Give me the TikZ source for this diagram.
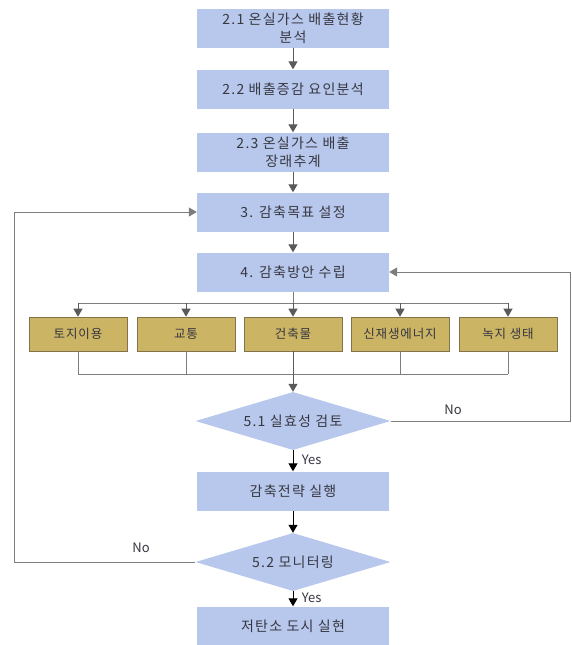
\documentclass[tikz,border=0pt]{standalone}
\usepackage{fontspec}
\setmainfont{Noto Sans CJK KR}
\usetikzlibrary{arrows.meta,shapes.geometric}
\definecolor{boxblue}{RGB}{183,200,236}
\definecolor{tanfill}{RGB}{203,180,100}
\definecolor{tanborder}{RGB}{130,115,75}
\definecolor{linegray}{RGB}{125,125,125}
\definecolor{arrgray}{RGB}{90,90,90}
\definecolor{txt}{RGB}{55,55,65}
\tikzset{
  mainbox/.style={rectangle, fill=boxblue, draw=none, minimum width=192pt, minimum height=39pt, inner sep=2pt, align=center, text=txt, font=\fontsize{14pt}{18pt}\selectfont\addfontfeatures{LetterSpace=9}},
  tanbox/.style={rectangle, fill=tanfill, draw=tanborder, line width=0.6pt, minimum width=98pt, minimum height=34pt, inner sep=1pt, text=txt, font=\fontsize{12.5pt}{14pt}\selectfont\addfontfeatures{LetterSpace=7}},
  decbox/.style={diamond, aspect=3.36, fill=boxblue, draw=none, minimum width=195pt, minimum height=58pt, inner sep=0pt, text=txt, font=\fontsize{14pt}{16pt}\selectfont\addfontfeatures{LetterSpace=9}},
  conn/.style={draw=linegray, line width=1pt},
  garrow/.style={conn, -{Triangle[length=8pt,width=9pt]}, arrgray},
  barrow/.style={draw=black, line width=1pt, -{Triangle[length=8pt,width=9pt]}},
  lbl/.style={text=txt, font=\fontsize{13pt}{15pt}\selectfont}
}
\begin{document}
\begin{tikzpicture}[x=1pt,y=-1pt]
\useasboundingbox[fill=white] (0,0) rectangle (572,645);
\node[mainbox] (b21) at (293,28) {2.1 온실가스 배출현황\\분석};
\node[mainbox] (b22) at (293,89) {2.2 배출증감 요인분석};
\node[mainbox] (b23) at (293,152) {2.3 온실가스 배출\\장래추계};
\node[mainbox] (b3) at (293,212) {3. 감축목표 설정};
\node[mainbox] (b4) at (293,272) {4. 감축방안 수립};
\node[tanbox] (t1) at (78,334) {토지이용};
\node[tanbox] (t2) at (186,334) {교통};
\node[tanbox] (t3) at (293,334) {건축물};
\node[tanbox] (t4) at (400,334) {신재생에너지};
\node[tanbox] (t5) at (508,334) {녹지 생태};
\node[decbox] (d51) at (293,421) {5.1 실효성 검토};
\node[mainbox] (b5) at (293,491) {감축전략 실행};
\node[decbox] (d52) at (293,562) {5.2 모니터링};
\node[mainbox] (b6) at (293,626) {저탄소 도시 실현};
\coordinate (br) at (293,303);
\coordinate (bb) at (293,374);
\coordinate (lx) at (14,0);
\coordinate (rx) at (570,0);
% top chain
\draw[garrow] (b21) -- (b22);
\draw[garrow] (b22) -- (b23);
\draw[garrow] (b23) -- (b3);
\draw[garrow] (b3) -- (b4);
% branches
\draw[conn] (b4.south) -- (br);
\draw[conn] (t1.north |- br) -- (t5.north |- br);
\foreach \t in {t1,t2,t3,t4,t5}{\draw[garrow] (\t.north |- br) -- (\t.north);}
\foreach \t in {t1,t2,t4,t5}{\draw[conn] (\t.south) -- (\t.south |- bb);}
\draw[conn] (t1.south |- bb) -- (t5.south |- bb);
\draw[garrow] (t3.south) -- (d51.north);
% lower chain
\draw[barrow] (d51.south) -- node[lbl, right=5pt, pos=0.45] {Yes} (b5.north);
\draw[barrow] (b5.south) -- (d52.north);
\draw[barrow] (d52.south) -- node[lbl, right=5pt, pos=0.45] {Yes} (b6.north);
% loops
\draw[conn, -{Triangle[length=8pt,width=9pt]}] (d51.east) -- (rx |- d51.east) -- (rx |- b4.east) -- (b4.east);
\node[lbl] (no1) at (453,410) {No};
\draw[conn] (d52.west) -- (lx |- d52.west) -- (lx |- b3.west);
\draw[conn, -{Triangle[length=8pt,width=9pt]}, draw=linegray] (lx |- b3.west) -- (b3.west);
\node[lbl] (no2) at (141,548) {No};
\end{tikzpicture}
\end{document}
